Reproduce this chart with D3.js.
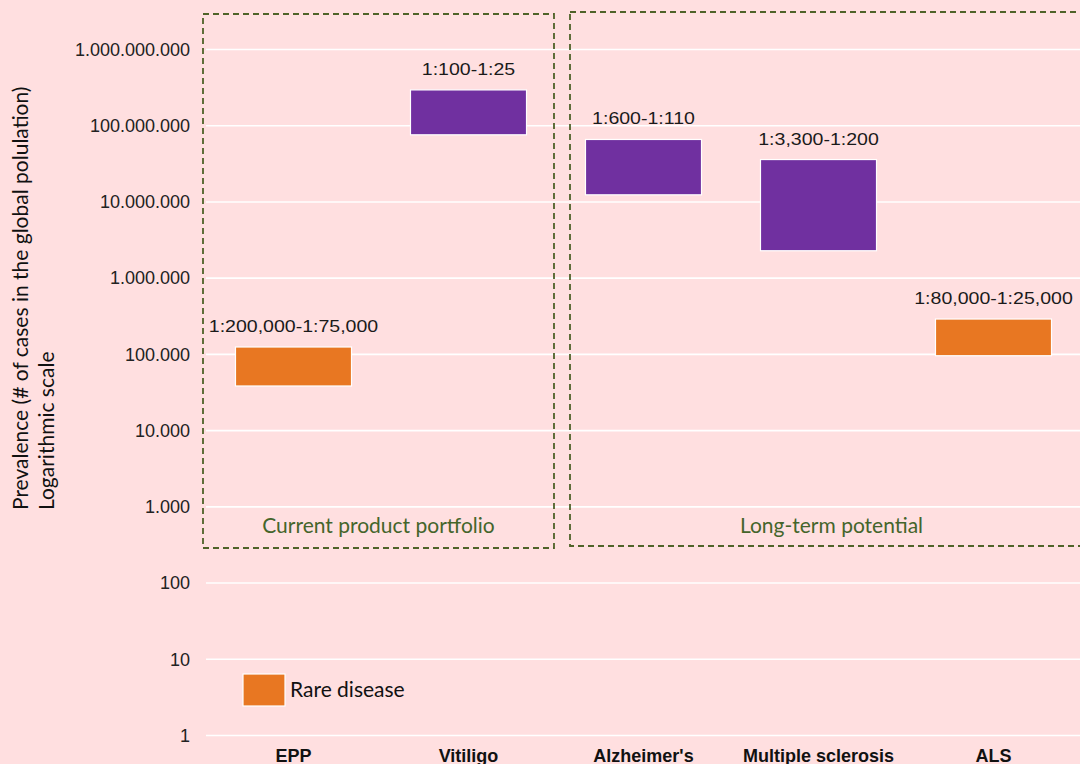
<!DOCTYPE html>
<html>
<head>
<meta charset="utf-8">
<script src="https://cdn.jsdelivr.net/npm/d3@7"></script>
<style>
  body { margin: 0; background: #ffdfe0; }
  svg { display: block; }
</style>
</head>
<body>
<div id="chart"></div>
<script>
// categories and prevalence ranges (# of cases, global population)
const categories = ['EPP', 'Vitiligo', "Alzheimer's", 'Multiple sclerosis', 'ALS'];
const lowValues = [38500, 76000000, 12400000, 2290000, 96000];
const highValues = [125000, 295000000, 66000000, 36000000, 291000];
const rangeLabels = ['1:200,000-1:75,000', '1:100-1:25', '1:600-1:110', '1:3,300-1:200', '1:80,000-1:25,000'];
const diseaseType = ['rare', 'common', 'common', 'common', 'rare'];
const tickValues = [1, 10, 100, 1000, 10000, 100000, 1000000, 10000000, 100000000, 1000000000];
const groupNames = ['Current product portfolio', 'Long-term potential'];
const groupFirst = ['EPP', "Alzheimer's"];
const groupLast = ['Vitiligo', 'ALS'];

const colors = { rare: '#e87722', common: '#7030a0' };
const boxColor = '#4f6228';
const boxText = '#44652b';

const width = 1080, height = 764;
const margin = { left: 206, right: -1, top: 49.5, bottom: 28.5 };

const svg = d3.select('#chart')
  .append('svg')
    .attr('width', width)
    .attr('height', height);

svg.append('rect')
  .attr('width', width).attr('height', height)
  .attr('fill', '#ffdfe0');

const x = d3.scaleBand()
  .domain(categories)
  .range([margin.left, width - margin.right])
  .paddingInner(0.337)
  .paddingOuter(0.1685);

const y = d3.scaleLog()
  .domain([1, 1e9])
  .range([height - margin.bottom, margin.top]);

const fmt = v => d3.format(',')(v).replace(/,/g, '.');

// gridlines
svg.append('g')
  .selectAll('line')
  .data(tickValues)
  .join('line')
    .attr('x1', margin.left)
    .attr('x2', width)
    .attr('y1', d => y(d))
    .attr('y2', d => y(d))
    .attr('stroke', '#ffffff')
    .attr('stroke-width', 1.6);

// y axis labels
const yAxis = svg.append('g')
  .attr('transform', 'translate(' + (margin.left - 16) + ',0)')
  .call(d3.axisLeft(y).tickValues(tickValues).tickFormat(fmt).tickSize(0).tickPadding(0));
yAxis.select('.domain').remove();
yAxis.selectAll('text')
  .attr('font-family', 'Liberation Sans, Arial, sans-serif')
  .attr('font-size', 18)
  .attr('fill', '#222');

// dashed group boxes
const boxTop = 14, boxBottom = 548;
groupNames.forEach((name, i) => {
  const step = x.step();
  const x0 = x(groupFirst[i]) - x.paddingOuter() * step - (i === 0 ? 3 : -14);
  const x1 = i === 0 ? x(groupLast[i]) + x.bandwidth() + x.paddingOuter() * step - 2 : width + 5;
  svg.append('rect')
    .attr('x', x0).attr('y', boxTop - (i === 0 ? 0 : 2))
    .attr('width', x1 - x0).attr('height', boxBottom - boxTop)
    .attr('fill', 'none')
    .attr('stroke', boxColor)
    .attr('stroke-width', 1.8)
    .attr('stroke-dasharray', '6,4');
  const cx = i === 0 ? (x0 + x1) / 2 : x(groupFirst[i]) + (x(groupLast[i]) + x.bandwidth() - x(groupFirst[i])) / 2 + 13;
  svg.append('text')
    .attr('x', cx)
    .attr('y', 533)
    .attr('text-anchor', 'middle')
    .attr('font-family', 'Lato, sans-serif')
    .attr('font-size', 21)
    .attr('fill', boxText)
    .text(name);
});

// range bars
const data = categories.map((c, i) => ({
  cat: c, lo: lowValues[i], hi: highValues[i], label: rangeLabels[i], type: diseaseType[i]
}));

svg.append('g')
  .selectAll('rect')
  .data(data)
  .join('rect')
    .attr('x', d => x(d.cat))
    .attr('width', x.bandwidth())
    .attr('y', d => y(d.hi))
    .attr('height', d => y(d.lo) - y(d.hi))
    .attr('fill', d => colors[d.type])
    .attr('stroke', '#ffffff')
    .attr('stroke-width', 1.2);

// labels above bars (slightly stretched like the original)
svg.append('g')
  .selectAll('text')
  .data(data)
  .join('text')
    .attr('transform', d => 'translate(' + (x(d.cat) + x.bandwidth() / 2) + ',' + (y(d.hi) - 15) + ') scale(1.15,1)')
    .attr('text-anchor', 'middle')
    .attr('font-family', 'Liberation Sans, Arial, sans-serif')
    .attr('font-size', 17)
    .attr('fill', '#1a1a1a')
    .text(d => d.label);

// category labels (cut by the bottom edge, as in the original)
svg.append('g')
  .selectAll('text')
  .data(categories)
  .join('text')
    .attr('x', d => x(d) + x.bandwidth() / 2)
    .attr('y', 762)
    .attr('text-anchor', 'middle')
    .attr('font-family', 'Liberation Sans, Arial, sans-serif')
    .attr('font-weight', 'bold')
    .attr('font-size', 18)
    .attr('fill', '#111')
    .text(d => d);

// y axis title
const title = svg.append('text')
  .attr('transform', 'translate(28,510) rotate(-90)')
  .attr('font-family', 'Lato, sans-serif')
  .attr('font-size', 21)
  .attr('fill', '#111');
title.append('tspan').attr('x', 0).attr('dy', 0).text('Prevalence (# of cases in the global polulation)');
title.append('tspan').attr('x', 0).attr('dy', 26).text('Logarithmic scale');

// legend
const legend = svg.append('g').attr('transform', 'translate(243,674)');
legend.append('rect')
  .attr('width', 42).attr('height', 32)
  .attr('fill', colors.rare)
  .attr('stroke', '#ffffff')
  .attr('stroke-width', 1.2);
legend.append('text')
  .attr('x', 47).attr('y', 23)
  .attr('font-family', 'Lato, sans-serif')
  .attr('font-size', 21)
  .attr('fill', '#111')
  .text('Rare disease');
</script>
</body>
</html>
